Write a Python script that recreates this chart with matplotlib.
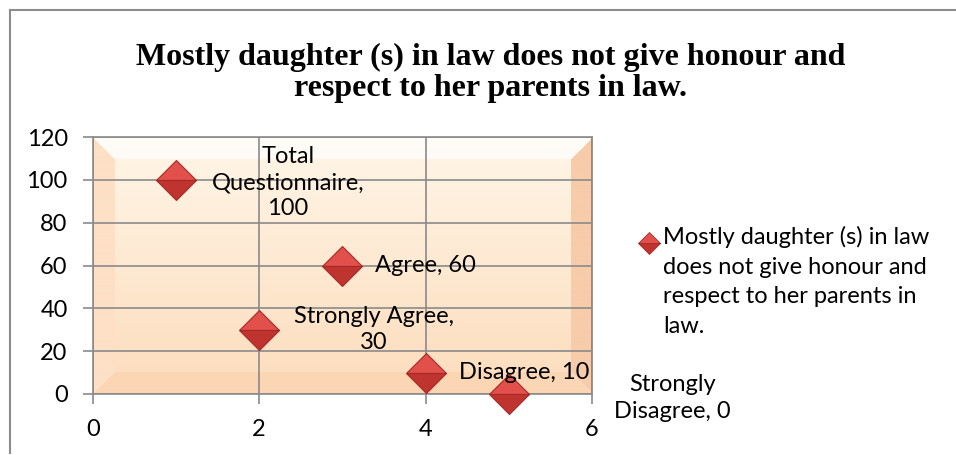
import textwrap
import numpy as np
import matplotlib
matplotlib.use("Agg")
import matplotlib.pyplot as plt
from matplotlib.lines import Line2D
from matplotlib.legend_handler import HandlerLine2D

# ---- data ----
series_name = "Mostly daughter (s) in law does not give honour and respect to her parents in law."
categories = ["Total Questionnaire", "Strongly Agree", "Agree", "Disagree", "Strongly Disagree"]
x_values = [1, 2, 3, 4, 5]
y_values = [100, 30, 60, 10, 0]
point_labels = ["Total\nQuestionnaire,\n100", "Strongly Agree,\n30", "Agree, 60",
                "Disagree, 10", "Strongly\nDisagree, 0"]
x_ticks = [0, 2, 4, 6]
y_ticks = [0, 20, 40, 60, 80, 100, 120]

W, H = 956, 455
fig = plt.figure(figsize=(W / 100, H / 100), dpi=100)
fig.patch.set_facecolor("white")

LABEL_FONT = "Lato"
FS = 17

# outer frame (only top and left edges visible)
fig.add_artist(Line2D([10 / W, 1.0], [1 - 10 / H, 1 - 10 / H], color="#8c8c8c", lw=1.5))
fig.add_artist(Line2D([10 / W, 10 / W], [1 - 10 / H, 1 - 453 / H], color="#8c8c8c", lw=1.5))

# title
fig.text(491 / W, 1 - 96 / H, textwrap.fill(series_name, 51), ha="center", va="baseline",
         fontsize=23, fontweight="bold", family="Liberation Serif", linespacing=1.08,
         multialignment="center")

ax = fig.add_axes([92.7 / W, 1 - 394 / H, (592 - 92.7) / W, (394 - 137) / H])

# bevel background image
ny, nx = 260, 500
yy, xx = np.mgrid[0:ny, 0:nx]
base_top = np.array([255, 246, 232]) / 255
base_bot = np.array([253, 220, 188]) / 255
t = (yy / (ny - 1))[..., None]
img = base_top * (1 - t) + base_bot * t
bw = 22
top_band = (yy < bw) & (xx >= yy) & (nx - 1 - xx >= yy)
left_band = (xx < bw) & (yy > xx) & (ny - 1 - yy > xx)
right_band = (nx - 1 - xx < bw) & (yy > nx - 1 - xx) & (ny - 1 - yy > nx - 1 - xx)
bot_band = (ny - 1 - yy < bw) & (xx > ny - 1 - yy) & (nx - 1 - xx > ny - 1 - yy)
img[top_band] = img[top_band] * 0.3 + np.array([1, 1, 1]) * 0.7
img[left_band] = np.array([253, 224, 198]) / 255
img[right_band] = np.array([247, 204, 170]) / 255
img[bot_band] = np.array([251, 214, 180]) / 255
ax.imshow(img, extent=[0, 6, 0, 120], aspect="auto", origin="upper", zorder=0)

ax.set_xlim(0, 6)
ax.set_ylim(0, 120)
ax.set_xticks(x_ticks)
ax.set_yticks(y_ticks)
ax.grid(True, color="#8a8a8a", lw=1.2, zorder=1)
ax.set_axisbelow(False)
for s in ax.spines.values():
    s.set_color("#8a8a8a")
    s.set_linewidth(1.2)
ax.tick_params(axis="both", direction="out", length=7, width=1.2, color="#8a8a8a",
               labelsize=FS, pad=11)
for lab in ax.get_xticklabels() + ax.get_yticklabels():
    lab.set_family(LABEL_FONT)

marker_kw = dict(marker="D", markersize=20, fillstyle="top",
                 markerfacecolor="#e2504b", markerfacecoloralt="#c03430",
                 markeredgecolor="#a52a27", markeredgewidth=0.8, linestyle="none")
ax.plot(x_values, y_values, zorder=5, clip_on=False, **marker_kw)

# data labels
offsets = [(112, -3, "center"), (115, 0, "center"), (33, 0, "left"), (33, 0, "left"), (164, -4, "center")]
for xv, yv, lab, (dx, dy, ha) in zip(x_values, y_values, point_labels, offsets):
    ax.annotate(lab, (xv, yv), xytext=(dx * 0.72, dy * 0.72), textcoords="offset points",
                ha=ha, va="center", fontsize=FS, family=LABEL_FONT, multialignment="center",
                linespacing=1.3, zorder=6, annotation_clip=False)


class FirstLineHandler(HandlerLine2D):
    """Place the legend marker level with the first line of a wrapped label."""
    def __init__(self, shift, **kw):
        super().__init__(**kw)
        self.shift = shift

    def create_artists(self, legend, orig_handle, xdescent, ydescent, width, height,
                       fontsize, trans):
        arts = super().create_artists(legend, orig_handle, xdescent, ydescent, width,
                                      height, fontsize, trans)
        for a in arts:
            a.set_ydata(np.asarray(a.get_ydata()) + self.shift)
        return arts


# legend
handle = Line2D([], [], marker="D", markersize=11, fillstyle="top",
                markerfacecolor="#e2504b", markerfacecoloralt="#c03430",
                markeredgecolor="#a52a27", markeredgewidth=0.6, linestyle="none")
leg = fig.legend([handle], [textwrap.fill(series_name, 26)], loc="upper left",
                 bbox_to_anchor=(638 / W, 1 - 226 / H), frameon=False,
                 prop={"family": LABEL_FONT, "size": FS}, handlelength=0.9,
                 handletextpad=0.15, borderpad=0, borderaxespad=0,
                 handler_map={handle: FirstLineHandler(shift=28)})
for txt in leg.get_texts():
    txt.set_linespacing(1.5)

fig.savefig("out.png", dpi=100)
